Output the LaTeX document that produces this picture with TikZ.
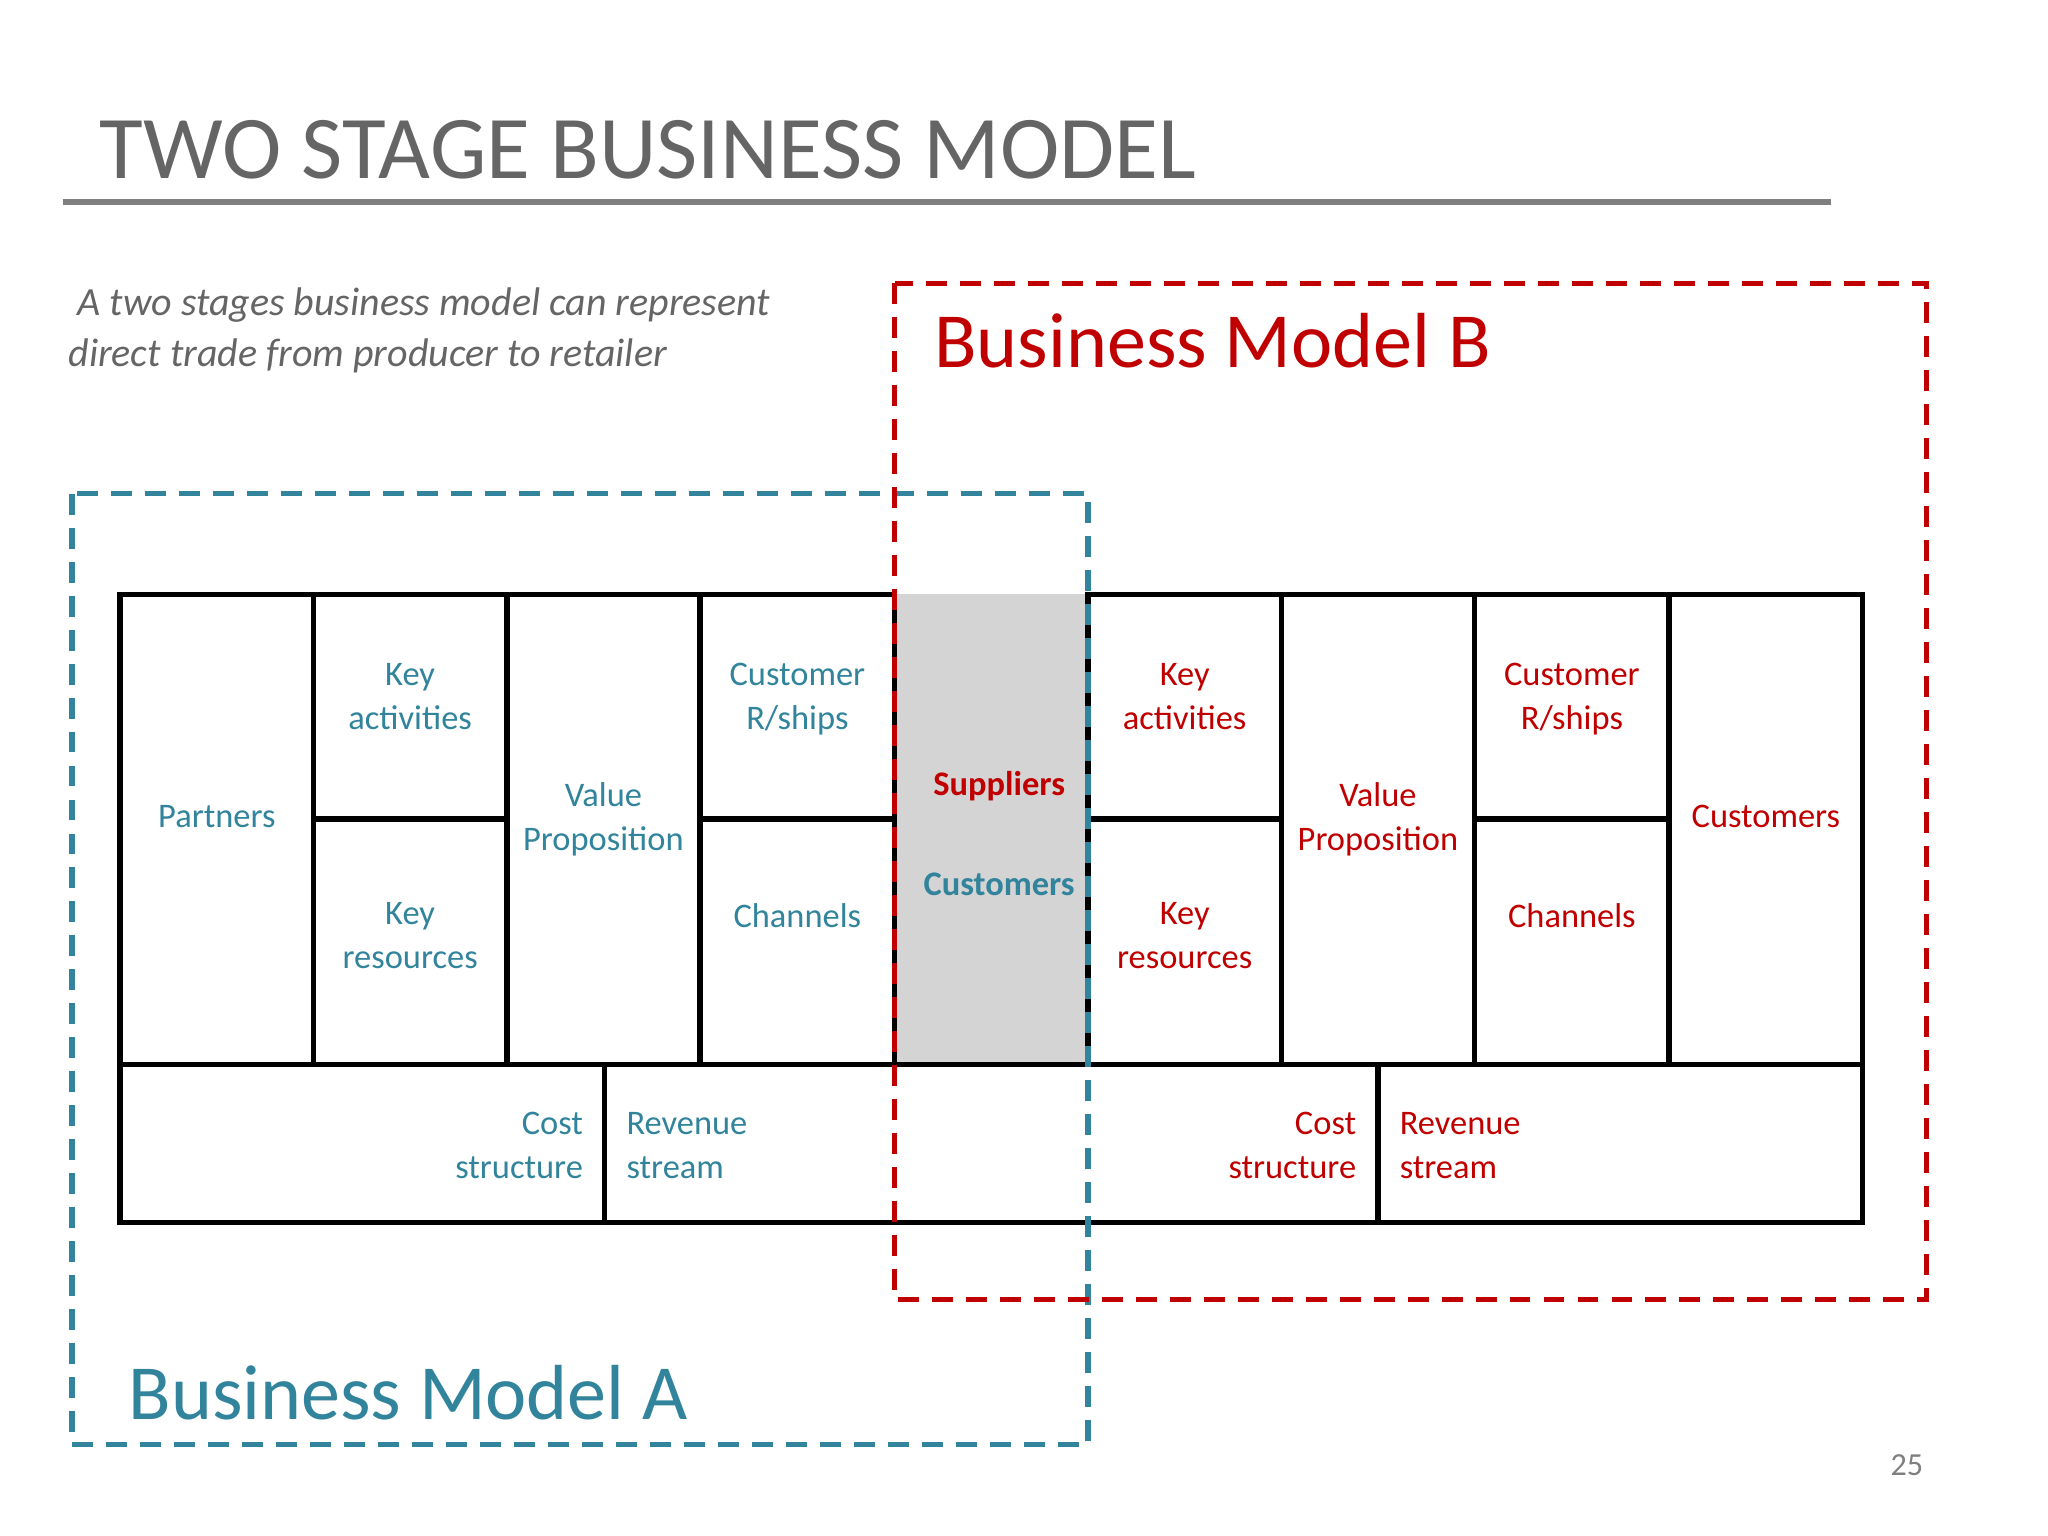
\documentclass[tikz,border=0pt]{standalone}
\usepackage{fontspec}
\setmainfont{Carlito}
\usetikzlibrary{positioning}
\definecolor{teal}{HTML}{31849B}
\definecolor{darkred}{HTML}{C00000}
\definecolor{rulegray}{HTML}{7F7F7F}
\begin{document}
\begin{tikzpicture}[
  x=0.01cm, y=-0.01cm,
  cell/.style={draw, line width=1.2pt, anchor=north west, inner sep=0pt, outer sep=0pt,
    align=center, font=\fontsize{7.5}{9.5}\selectfont},
  top/.style={cell, minimum height=172*0.01cm, text depth=0.16cm},
  low/.style={cell, minimum height=188*0.01cm, text depth=0.4cm},
  lowtwo/.style={cell, minimum height=188*0.01cm, text depth=0.1cm},
  full/.style={cell, minimum height=360*0.01cm, text depth=0.2cm},
  lbl/.style={inner sep=0pt, align=left, font=\fontsize{7.5}{9.5}\selectfont},
  frame/.style={line width=1.2pt, dash pattern=on 0.16cm off 0.1cm}
]
\useasboundingbox (0,0) rectangle (1568,1176);
% title
\node[anchor=west, text=rulegray!80!black, font=\fontsize{19.5}{22}\selectfont] (title) at (64,115) {TWO STAGE BUSINESS MODEL};
\draw[rulegray, line width=1.3pt] (48,155) coordinate (r1) -- (1402,155) coordinate (r2);
\node[anchor=north west, align=left, text=rulegray!80!black, font=\fontsize{8.7}{11}\selectfont\itshape] (intro) at (40,208)
  {\ A two stages business model can represent\\direct trade from producer to retailer};
% shared column
\fill[black!17] (685,455) rectangle (833,815);
% canvas A
\node[full, minimum width=148*0.01cm, text=teal] (pa) at (92,455) {Partners};
\node[top, minimum width=148*0.01cm, text=teal] (kaa) at (240,455) {Key\\activities};
\node[lowtwo, minimum width=148*0.01cm, text=teal] (kra) at (240,627) {Key\\resources};
\node[full, minimum width=148*0.01cm, text=teal] (vpa) at (388,455) {Value\\Proposition};
\node[top, minimum width=149*0.01cm, text=teal] (cra) at (536,455) {Customer\\R/ships};
\node[low, minimum width=149*0.01cm, text=teal] (cha) at (536,627) {Channels};
% canvas B
\node[top, minimum width=148*0.01cm, text=darkred] (kab) at (833,455) {Key\\activities};
\node[lowtwo, minimum width=148*0.01cm, text=darkred] (krb) at (833,627) {Key\\resources};
\node[full, minimum width=148*0.01cm, text=darkred] (vpb) at (981,455) {Value\\Proposition};
\node[top, minimum width=149*0.01cm, text=darkred] (crb) at (1129,455) {Customer\\R/ships};
\node[low, minimum width=149*0.01cm, text=darkred] (chb) at (1129,627) {Channels};
\node[full, minimum width=148*0.01cm, text=darkred] (cub) at (1278,455) {Customers};
% bottom row
\node[cell, minimum width=371*0.01cm, minimum height=121*0.01cm] (csa) at (92,815) {};
\node[cell, minimum width=592*0.01cm, minimum height=121*0.01cm] (rsa) at (463,815) {};
\node[cell, minimum width=371*0.01cm, minimum height=121*0.01cm] (rsb) at (1055,815) {};
\node[lbl, anchor=east, align=right, text=teal] (csat) at (447,877) {Cost\\structure};
\node[lbl, anchor=west, text=teal] (rsat) at (479,877) {Revenue\\stream};
\node[lbl, anchor=east, align=right, text=darkred] (csbt) at (1039,877) {Cost\\structure};
\node[lbl, anchor=west, text=darkred] (rsbt) at (1071,877) {Revenue\\stream};
% shared labels
\node[lbl, text=darkred, font=\fontsize{7.5}{9.5}\selectfont\bfseries] (sup) at (765,602) {Suppliers};
\node[lbl, text=teal, font=\fontsize{7.5}{9.5}\selectfont\bfseries] (cus) at (765,677) {Customers};
% dashed frames
\draw[frame, teal] (55,378) rectangle (833,1106);
\draw[frame, darkred] (685,217) rectangle (1475,995);
\node[anchor=west, text=teal, font=\fontsize{17}{20}\selectfont] (bma) at (86,1066) {Business Model A};
\node[anchor=west, text=darkred, font=\fontsize{17}{20}\selectfont] (bmb) at (703,261) {Business Model B};
\node[text=rulegray, font=\fontsize{7}{8}\selectfont] (pg) at (1460,1122) {25};
\end{tikzpicture}
\end{document}
